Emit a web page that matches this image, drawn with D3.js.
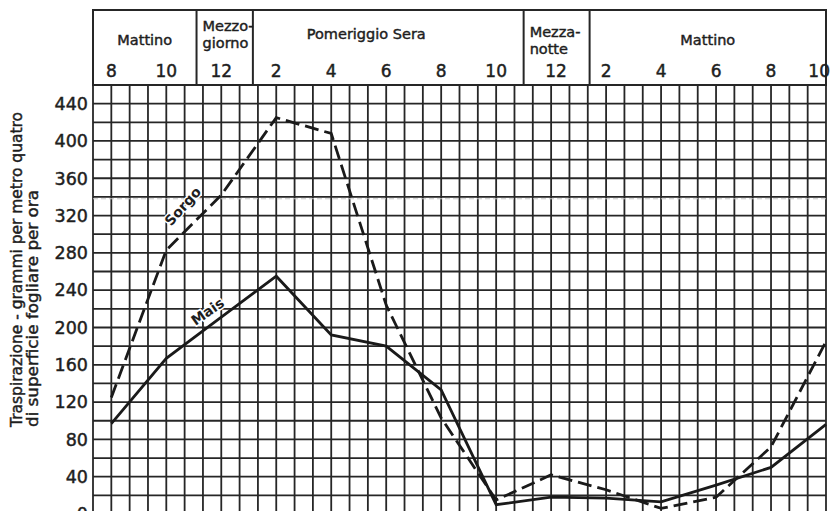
<!DOCTYPE html>
<html>
<head>
<meta charset="utf-8">
<script src="https://cdn.jsdelivr.net/npm/d3@7"></script>
<style>
    body { margin: 0; background: #fff; }
    svg { display: block; }
    text { font-family: "DejaVu Sans", sans-serif; fill: #1e1e1e; }
    .ink { stroke: #1e1e1e; stroke-width: 0.45px; }
</style>
</head>
<body>
<svg id="chart"></svg>
<script>
// hours of the day, counted on from 8 in the morning (24 = midnight, 34 = 10 next morning)
const hours = [8, 10, 12, 14, 16, 18, 20, 22, 24, 26, 28, 30, 32, 34];
const hourLabels = ["8", "10", "12", "2", "4", "6", "8", "10", "12", "2", "4", "6", "8", "10"];

// transpiration, g per m2 of leaf surface per hour
const sorgo = [125, 283, 342, 425, 408, 224, 103, 15, 42, 26, 6, 18, 72, 185];
const mais = [97, 167, 211, 255, 192, 180, 133, 10, 18, 17, 13, 31, 50, 96];

const yTicks = [0, 40, 80, 120, 160, 200, 240, 280, 320, 360, 400, 440];

// parts of the day shown in the header box, and the hours where the box is divided
const periodNames = [["Mattino"], ["Mezzo-", "giorno"], ["Pomeriggio  Sera"], ["Mezza-", "notte"], ["Mattino"]];
const periodEdges = [11.1, 13.15, 23, 25.4];

const yTitle = ["Traspirazione - grammi per metro quatro", "di superficie fogliare per ora"];

// set up svg
const svgWidth = 836;
const svgHeight = 511;
const svg = d3.select("#chart")
    .attr("width", svgWidth)
    .attr("height", svgHeight);

// scales: one grid cell is 40 minutes wide and 20 units high
const xStart = 8 - 2 / 3;
const xEnd = 34;
const x = d3.scaleLinear().domain([xStart, xEnd]).range([93, 826]);
const y = d3.scaleLinear().domain([0, 460]).range([514, 85]);
const headerTop = 10;

const ink = "#262626";

// grid
const gridX = d3.range(0, 41).map(i => xStart + i * 2 / 3);
const gridY = d3.range(0, 461, 20);

svg.append("g")
    .selectAll("line")
    .data(gridX)
    .join("line")
    .attr("x1", d => x(d))
    .attr("x2", d => x(d))
    .attr("y1", y(460))
    .attr("y2", y(0))
    .attr("stroke", ink)
    .attr("stroke-width", 1.8);

svg.append("g")
    .selectAll("line")
    .data(gridY)
    .join("line")
    .attr("x1", x(xStart))
    .attr("x2", x(xEnd))
    .attr("y1", d => y(d))
    .attr("y2", d => y(d))
    .attr("stroke", ink)
    .attr("stroke-width", 1.8);

// faint printing line across the sheet
svg.append("line")
    .attr("x1", x(xStart))
    .attr("x2", x(xEnd))
    .attr("y1", y(338))
    .attr("y2", y(338))
    .attr("stroke", "#c8c8c8")
    .attr("stroke-width", 1)
    .attr("stroke-dasharray", "5,3");

// header box
svg.append("rect")
    .attr("x", x(xStart))
    .attr("y", headerTop)
    .attr("width", x(xEnd) - x(xStart))
    .attr("height", y(460) - headerTop)
    .attr("fill", "none")
    .attr("stroke", ink)
    .attr("stroke-width", 2);

svg.append("g")
    .selectAll("line")
    .data(periodEdges)
    .join("line")
    .attr("x1", d => x(d))
    .attr("x2", d => x(d))
    .attr("y1", headerTop)
    .attr("y2", y(460))
    .attr("stroke", ink)
    .attr("stroke-width", 2);

// period names
const bounds = [xStart, ...periodEdges, xEnd];
const periodBaselines = [[45], [31, 48], [39], [37, 54], [45]];
periodNames.forEach((lines, i) => {
    const twoLines = lines.length > 1;
    const cx = twoLines ? x(bounds[i]) + 6 : (x(bounds[i]) + x(bounds[i + 1])) / 2 + (i === 2 ? -22 : 0);
    lines.forEach((line, j) => {
        svg.append("text")
            .attr("class", "ink")
            .attr("x", cx)
            .attr("y", periodBaselines[i][j])
            .attr("text-anchor", twoLines ? "start" : "middle")
            .style("font-size", "14.5px")
            .text(line);
    });
});

// hour labels
svg.append("g")
    .selectAll("text")
    .data(hours)
    .join("text")
    .attr("class", "ink")
    .attr("x", (d, i) => i === hours.length - 1 ? x(d) + 4 : x(d) + (d === 24 ? 5 : 0))
    .attr("y", 77)
    .attr("text-anchor", (d, i) => i === hours.length - 1 ? "end" : "middle")
    .style("font-size", "17px")
    .text((d, i) => hourLabels[i]);

// y tick labels
svg.append("g")
    .selectAll("text")
    .data(yTicks)
    .join("text")
    .attr("class", "ink")
    .attr("x", 88)
    .attr("y", d => y(d))
    .attr("dy", "0.36em")
    .attr("text-anchor", "end")
    .style("font-size", "17.5px")
    .text(d => d);

// y axis title, two lines read from the bottom up
const titleLengths = [315, 237];
yTitle.forEach((line, i) => {
    svg.append("text")
        .attr("class", "ink")
        .attr("transform", `translate(${22 + i * 16}, 427) rotate(-90)`)
        .attr("text-anchor", "start")
        .attr("textLength", titleLengths[i])
        .attr("lengthAdjust", "spacingAndGlyphs")
        .style("font-size", "15px")
        .text(line);
});

// series
const line = d3.line()
    .x((d, i) => x(hours[i]))
    .y(d => y(d));

svg.append("path")
    .datum(mais)
    .attr("d", line)
    .attr("fill", "none")
    .attr("stroke", "#1a1a1a")
    .attr("stroke-width", 2.8)
    .attr("stroke-linejoin", "miter");

svg.append("path")
    .datum(sorgo)
    .attr("d", line)
    .attr("fill", "none")
    .attr("stroke", "#1a1a1a")
    .attr("stroke-width", 2.8)
    .attr("stroke-dasharray", "14,6")
    .attr("stroke-linejoin", "miter");

// series names written along the lines
const seriesLabels = [
    { text: "Sorgo", hour: 10.6, value: 330, angle: -48 },
    { text: "Mais", hour: 11.5, value: 217, angle: -35 }
];
svg.append("g")
    .selectAll("text")
    .data(seriesLabels)
    .join("text")
    .attr("transform", d => `translate(${x(d.hour)}, ${y(d.value)}) rotate(${d.angle})`)
    .attr("text-anchor", "middle")
    .attr("dy", "0.35em")
    .style("font-size", "14px")
    .style("font-weight", "bold")
    .style("stroke", "#fff")
    .style("stroke-width", 3)
    .style("paint-order", "stroke")
    .text(d => d.text);
</script>
</body>
</html>
